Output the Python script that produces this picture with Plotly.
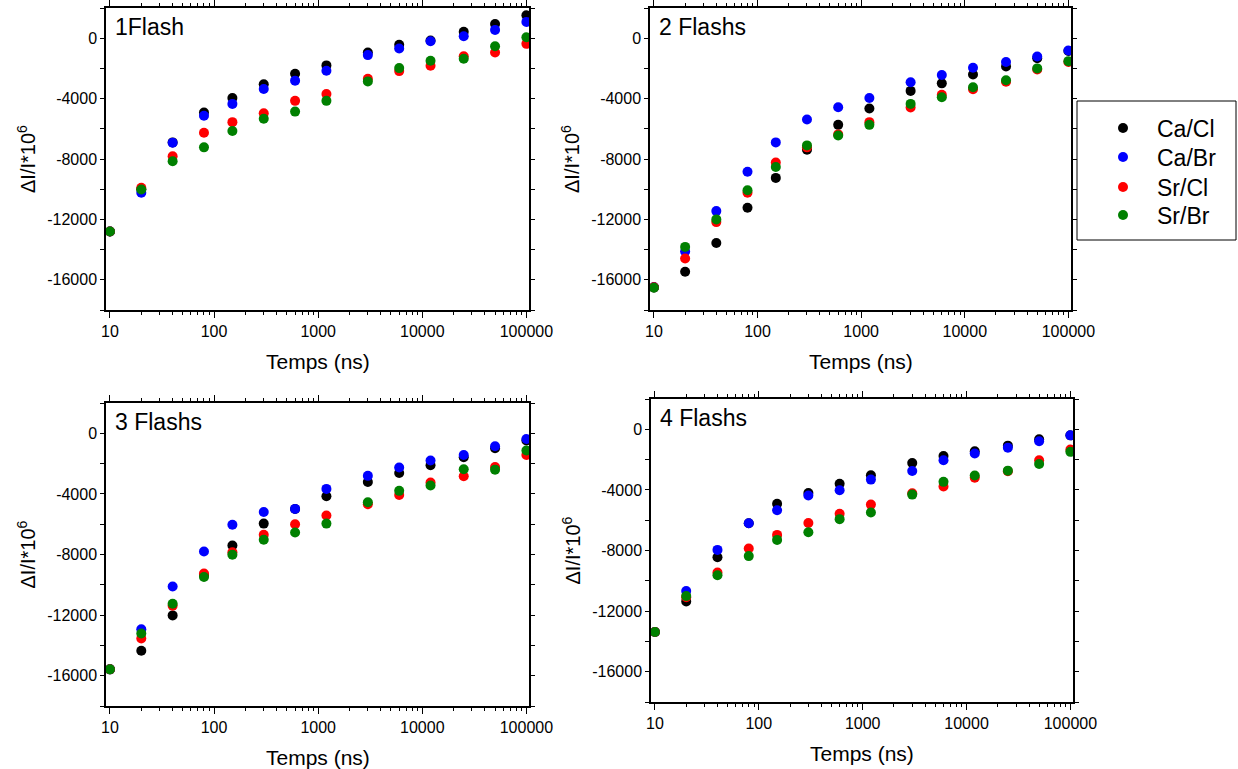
import plotly.graph_objects as go

W, H = 1238, 769

times = [10, 20, 40, 80, 150, 300, 600, 1200, 3000, 6000, 12000, 25000, 50000, 100000]
series_names = ["Ca/Cl", "Ca/Br", "Sr/Cl", "Sr/Br"]
series_colors = ["#000000", "#0000FF", "#FF0000", "#008000"]

# Panel 1 : 1Flash
p1_cacl = [-12800, -10000, -6900, -4920, -3960, -3050, -2350, -1800, -945, -440, -150, 420, 945, 1520]
p1_cabr = [-12800, -10240, -6920, -5140, -4350, -3360, -2810, -2150, -1120, -680, -200, 130, 550, 1080]
p1_srcl = [-12800, -9910, -7820, -6260, -5560, -4970, -4150, -3690, -2680, -2180, -1820, -1190, -945, -375]
p1_srbr = [-12800, -10020, -8150, -7230, -6150, -5340, -4860, -4150, -2860, -1980, -1490, -1360, -530, 65]

# Panel 2 : 2 Flashs
p2_cacl = [-16500, -15470, -13560, -11230, -9250, -7380, -5740, -4660, -3490, -2990, -2400, -1870, -1320, -850]
p2_cabr = [-16500, -14130, -11450, -8840, -6900, -5380, -4570, -3960, -2920, -2440, -1960, -1580, -1210, -810]
p2_srcl = [-16500, -14590, -12180, -10240, -8240, -7230, -6370, -5560, -4590, -3740, -3380, -2880, -2070, -1580]
p2_srbr = [-16530, -13820, -12000, -10070, -8530, -7100, -6440, -5740, -4350, -3910, -3250, -2790, -2000, -1520]

# Panel 3 : 3 Flashs
p3_cacl = [-15580, -14350, -12020, -9350, -7410, -5960, -5000, -4150, -3210, -2620, -2110, -1580, -990, -480]
p3_cabr = [-15580, -12940, -10110, -7800, -6040, -5190, -4990, -3670, -2810, -2260, -1800, -1430, -860, -375]
p3_srcl = [-15580, -13540, -11380, -9250, -7850, -6700, -6000, -5430, -4680, -4070, -3250, -2840, -2220, -1430]
p3_srbr = [-15580, -13210, -11250, -9490, -8020, -7030, -6550, -5960, -4550, -3800, -3450, -2370, -2400, -1140]

# Panel 4 : 4 Flashs
p4_cacl = [-13380, -11360, -8440, -6200, -4920, -4200, -3600, -3030, -2220, -1760, -1450, -1080, -660, -400]
p4_cabr = [-13380, -10680, -7960, -6200, -5340, -4370, -4020, -3320, -2750, -2040, -1600, -1210, -790, -400]
p4_srcl = [-13380, -11080, -9450, -7870, -6970, -6180, -5580, -4970, -4220, -3780, -3190, -2770, -2040, -1340]
p4_srbr = [-13380, -11010, -9630, -8370, -7300, -6790, -5930, -5490, -4310, -3470, -3050, -2730, -2290, -1490]

panel_titles = ["1Flash", "2 Flashs", "3 Flashs", "4 Flashs"]
panel_data = [
    [p1_cacl, p1_cabr, p1_srcl, p1_srbr],
    [p2_cacl, p2_cabr, p2_srcl, p2_srbr],
    [p3_cacl, p3_cabr, p3_srcl, p3_srbr],
    [p4_cacl, p4_cabr, p4_srcl, p4_srbr],
]

y_tickvals = [-16000, -12000, -8000, -4000, 0]
y_ticktext = ["-16000", "-12000", "-8000", "-4000", "0"]
y_minorvals = [-18000, -14000, -10000, -6000, -2000, 2000]
x_tickvals = [10, 100, 1000, 10000, 100000]
x_ticktext = ["10", "100", "1000", "10000", "100000"]
x_minorvals = [m * d for d in [10, 100, 1000, 10000] for m in range(2, 10)]

x_title = "Temps (ns)"
y_title = "ΔI/I*10<sup>6</sup>"

FONT = "Liberation Sans, Arial, sans-serif"

# pixel boxes of each plot area: (left, right, top, bottom)
boxes = [
    (106, 529, 8, 310),
    (650, 1071, 8, 310),
    (106, 529, 403, 706),
    (651, 1073, 399, 702),
]
# legend entry centres (pixels)
legend_rows = [128, 157, 187, 215]
legend_names = ["legend", "legend2", "legend3", "legend4"]

fig = go.Figure()

for i, (data, box) in enumerate(zip(panel_data, boxes)):
    sfx = "" if i == 0 else str(i + 1)
    for k, (name, color, vals) in enumerate(zip(series_names, series_colors, data)):
        fig.add_trace(go.Scatter(
            x=times, y=vals, mode="markers", name=name,
            marker=dict(color=color, size=10, line=dict(width=0)),
            xaxis="x" + sfx, yaxis="y" + sfx,
            showlegend=(i == 1), legend=legend_names[k],
        ))
    l, r, t, b = box
    xdom = [l / W, r / W]
    ydom = [1 - b / H, 1 - t / H]
    axis_common = dict(
        showline=True, linecolor="black", linewidth=1.5, mirror="allticks",
        ticks="outside", tickcolor="black", tickwidth=1.2, showgrid=False,
        zeroline=False, automargin=False,
        tickfont=dict(family=FONT, size=16, color="black"),
    )
    fig.update_layout(**{
        "xaxis" + sfx: dict(
            domain=xdom, type="log", range=[0.962, 5.025], anchor="y" + sfx,
            tickmode="array", tickvals=x_tickvals, ticktext=x_ticktext, ticklen=6,
            minor=dict(tickmode="array", tickvals=x_minorvals, ticks="outside",
                       ticklen=3, tickcolor="black", tickwidth=1),
            **axis_common),
        "yaxis" + sfx: dict(
            domain=ydom, range=[-18000, 2000], anchor="x" + sfx,
            tickmode="array", tickvals=y_tickvals, ticktext=y_ticktext, ticklen=4,
            minor=dict(tickmode="array", tickvals=y_minorvals, ticks="outside",
                       ticklen=4, tickcolor="black", tickwidth=1.2),
            **axis_common),
    })
    # panel label
    fig.add_annotation(text=panel_titles[i], xref="paper", yref="paper",
                       x=(l + 7) / W, y=1 - (t + 19) / H, xanchor="left", yanchor="middle",
                       showarrow=False, font=dict(family=FONT, size=23, color="black"))
    # x axis title
    fig.add_annotation(text=x_title, xref="paper", yref="paper",
                       x=(l + r) / 2 / W, y=1 - (b + 51) / H, xanchor="center", yanchor="middle",
                       showarrow=False, font=dict(family=FONT, size=21, color="black"))
    # y axis title
    fig.add_annotation(text=y_title, xref="paper", yref="paper",
                       x=(l - 80) / W, y=1 - (t + b) / 2 / H, xanchor="center", yanchor="middle",
                       textangle=-90, showarrow=False,
                       font=dict(family=FONT, size=20, color="black"))

# legend frame
fig.add_shape(type="rect", xref="paper", yref="paper",
              x0=1077 / W, x1=1236 / W, y0=1 - 240 / H, y1=1 - 101 / H,
              line=dict(color="black", width=1), fillcolor="rgba(0,0,0,0)")

legend_common = dict(xanchor="left", yanchor="middle",
                     bgcolor="rgba(0,0,0,0)", borderwidth=0,
                     font=dict(family=FONT, size=23, color="black"),
                     itemwidth=58)
legend_layout = {}
for name, row in zip(legend_names, legend_rows):
    legend_layout[name] = dict(x=1089 / W, y=1 - row / H, **legend_common)

fig.update_layout(
    width=W, height=H,
    margin=dict(l=0, r=0, t=0, b=0, autoexpand=False),
    paper_bgcolor="white", plot_bgcolor="white",
    font=dict(family=FONT, color="black"),
    showlegend=True,
    **legend_layout,
)

fig.write_html("out.html", config={"displayModeBar": False},
               post_script="document.body.style.margin='0';document.body.style.overflow='hidden';")
